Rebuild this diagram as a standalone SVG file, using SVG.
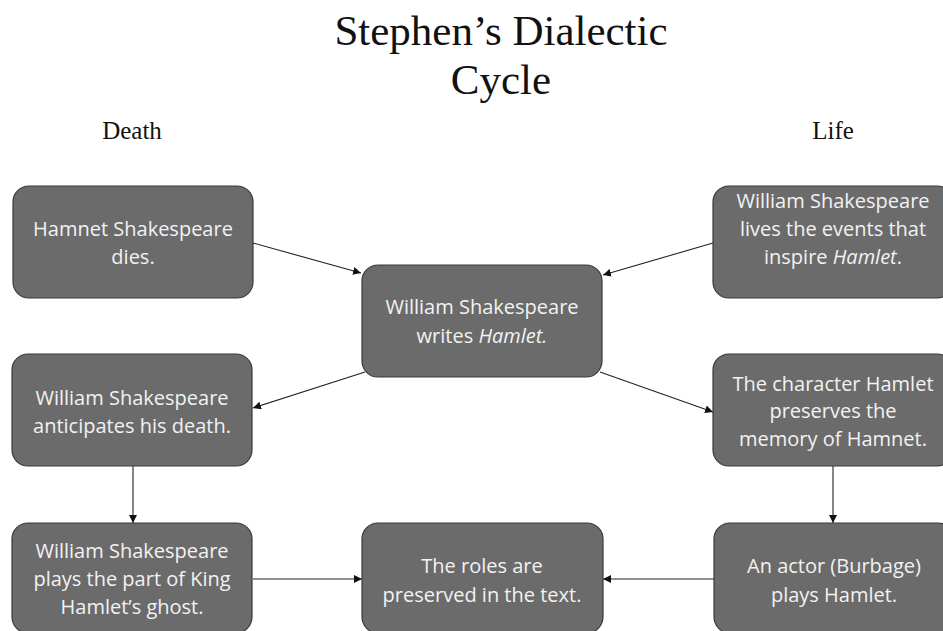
<svg xmlns="http://www.w3.org/2000/svg" width="943" height="631" viewBox="0 0 943 631">
<style>
.box{fill:#6b6b6b;stroke:#3a3a3a;stroke-width:1.2}
.t{font-family:"Open Sans","Liberation Sans",sans-serif;font-size:20px;fill:#f2f2f2;text-anchor:middle}
.h{font-family:"Liberation Serif","Times New Roman",serif;fill:#111;text-anchor:middle}
.c{stroke:#222;stroke-width:1.1;fill:none;marker-end:url(#ah)}
</style>
<defs>
<marker id="ah" viewBox="0 0 10 10" refX="10" refY="5" markerWidth="8" markerHeight="8" markerUnits="userSpaceOnUse" orient="auto">
<path d="M0,0 L10,5 L0,10 z" fill="#111"/>
</marker>
</defs>
<rect width="943" height="631" fill="#fff"/>
<g id="title">
<text class="h" x="501" y="45" font-size="43">Stephen’s Dialectic</text>
<text class="h" x="501" y="94" font-size="43">Cycle</text>
</g>
<text class="h" x="132" y="139" font-size="25">Death</text>
<text class="h" x="833" y="139" font-size="25">Life</text>
<g id="connectors">
<line class="c" x1="253" y1="243" x2="361" y2="273"/>
<line class="c" x1="713" y1="243" x2="603" y2="275"/>
<line class="c" x1="365" y1="372" x2="253" y2="408"/>
<line class="c" x1="600" y1="372" x2="713" y2="412"/>
<line class="c" x1="133" y1="466" x2="133" y2="523"/>
<line class="c" x1="833" y1="466" x2="833" y2="523"/>
<line class="c" x1="253" y1="579" x2="362" y2="579"/>
<line class="c" x1="714" y1="579" x2="603" y2="579"/>
</g>
<g id="n1"><rect class="box" x="13" y="186" width="240" height="112" rx="16"/>
<text class="t" x="133" y="236">Hamnet Shakespeare</text><text class="t" x="133" y="264">dies.</text></g>
<g id="n2"><rect class="box" x="713" y="186" width="240" height="112" rx="16"/>
<text class="t" x="833" y="208">William Shakespeare</text><text class="t" x="833" y="236">lives the events that</text><text class="t" x="833" y="264">inspire <tspan font-style="italic">Hamlet</tspan>.</text></g>
<g id="n3"><rect class="box" x="362" y="265" width="240" height="112" rx="16"/>
<text class="t" x="482" y="314">William Shakespeare</text><text class="t" x="482" y="343">writes <tspan font-style="italic">Hamlet.</tspan></text></g>
<g id="n4"><rect class="box" x="12" y="354" width="240" height="112" rx="16"/>
<text class="t" x="132" y="405">William Shakespeare</text><text class="t" x="132" y="433">anticipates his death.</text></g>
<g id="n5"><rect class="box" x="713" y="354" width="240" height="112" rx="16"/>
<text class="t" x="833" y="391">The character Hamlet</text><text class="t" x="833" y="418">preserves the</text><text class="t" x="833" y="446">memory of Hamnet.</text></g>
<g id="n6"><rect class="box" x="12" y="523" width="240" height="110" rx="16"/>
<text class="t" x="132" y="558">William Shakespeare</text><text class="t" x="132" y="586">plays the part of King</text><text class="t" x="132" y="614">Hamlet’s ghost.</text></g>
<g id="n7"><rect class="box" x="362" y="523" width="241" height="110" rx="16"/>
<text class="t" x="482" y="573">The roles are</text><text class="t" x="482" y="602">preserved in the text.</text></g>
<g id="n8"><rect class="box" x="714" y="523" width="240" height="110" rx="16"/>
<text class="t" x="834" y="573">An actor (Burbage)</text><text class="t" x="834" y="602">plays Hamlet.</text></g>
</svg>
